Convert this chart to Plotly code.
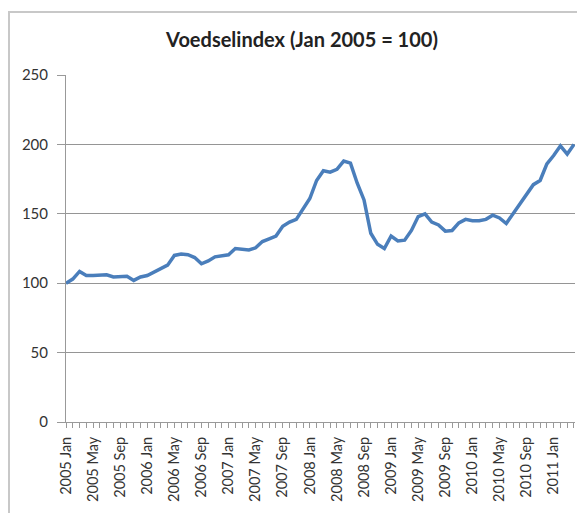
import plotly.graph_objects as go

months = ["Jan", "Feb", "Mar", "Apr", "May", "Jun", "Jul", "Aug", "Sep", "Oct", "Nov", "Dec"]
categories = [f"{y} {m}" for y in range(2005, 2012) for m in months][:76]

values = [
    100, 103, 108.5, 105.5, 105.5, 105.5, 106, 104.5, 104.5, 105, 102, 104.5,
    105.5, 108, 110, 113, 120, 121, 120.5, 118.5, 114, 116, 119, 120,
    120.5, 125, 124.5, 124, 125.5, 130, 132, 134, 141, 144, 146, 153,
    161, 174, 181, 180, 182, 188, 186.5, 172, 160, 136, 128, 125,
    134, 130.5, 131, 138, 148, 150, 144, 142, 137.5, 138, 143.5, 146,
    145, 145, 146, 149, 147, 143, 150, 157, 163, 171, 174, 186,
    192, 199, 193, 200,
]

y_ticks = [0, 50, 100, 150, 200, 250]
x_idx = list(range(len(categories)))
label_idx = x_idx[::4]
label_text = [categories[i] for i in label_idx]

fig = go.Figure()
fig.add_trace(go.Scatter(
    x=x_idx, y=values, mode="lines",
    line=dict(color="#4a7ebb", width=3.5),
    hovertext=categories, showlegend=False,
))

# page body has an 8px offset; positions below are in figure pixels
OFF = 8
W, H = 585, 513
L = 66 - OFF
T = 75 - OFF
plot_right = 575 - OFF
plot_bottom = 422 - OFF
R = W - plot_right
B = H - plot_bottom
pw, ph = plot_right - L, plot_bottom - T

fig.update_layout(
    width=W, height=H,
    margin=dict(l=L, r=R, t=T, b=B),
    paper_bgcolor="white", plot_bgcolor="white",
    font=dict(family="Lato, Liberation Sans, sans-serif", size=14, color="#333333"),
    title=dict(text="<b>Voedselindex (Jan 2005 = 100)</b>",
               x=(302 - OFF) / W, xanchor="center", y=1 - (40 - OFF) / H, yanchor="middle",
               font=dict(family="Lato, Liberation Sans, sans-serif", size=20, color="#222222")),
    xaxis=dict(
        range=[0, len(categories) - 1 + 0.15],
        tickmode="array", tickvals=label_idx, ticktext=label_text,
        tickangle=-90, ticks="outside", ticklen=5, tickcolor="#999999",
        minor=dict(dtick=1, tick0=0, ticks="outside", ticklen=5, tickcolor="#999999", showgrid=False),
        showline=True, linecolor="#999999", linewidth=1,
        showgrid=False, zeroline=False,
        ticklabelstandoff=3,
        tickfont=dict(size=14.5, color="#333333"),
    ),
    yaxis=dict(
        range=[0, 250], tickmode="array", tickvals=y_ticks,
        ticks="outside", ticklen=8, tickcolor="#999999",
        showline=True, linecolor="#999999", linewidth=1,
        showgrid=True, gridcolor="#959595", gridwidth=1,
        zeroline=False,
        ticklabelstandoff=6,
        tickfont=dict(size=15, color="#333333"),
    ),
    shapes=[dict(
        type="rect", xref="paper", yref="paper",
        x0=(0 - L) / pw + 1 / pw, x1=(W + 20 - L) / pw,
        y0=-((H + 20) - plot_bottom) / ph, y1=(plot_bottom - (12 - OFF)) / ph,
        line=dict(color="#c8c8c8", width=2), fillcolor="rgba(0,0,0,0)",
        layer="below",
    )],
)

fig.write_html("out.html")
